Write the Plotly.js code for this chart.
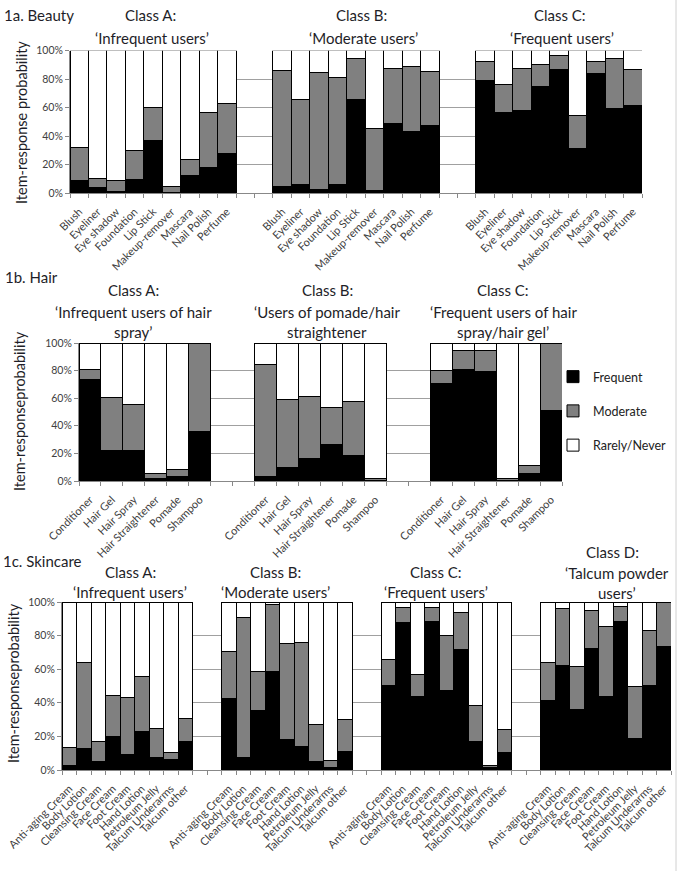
<!DOCTYPE html>
<html>
<head>
<meta charset="utf-8">
<script src="https://cdn.plot.ly/plotly-3.0.1.min.js"></script>
<style>html,body{margin:0;padding:0;background:#fff;}#chart{width:680px;height:871px;}</style>
</head>
<body>
<div id="chart"></div>
<script>
// ---------- DATA ----------
const beautyItems = ['Blush','Eyeliner','Eye shadow','Foundation','Lip Stick','Makeup-remover','Mascara','Nail Polish','Perfume'];
const beautyFrequentA = [8.5, 4, 1, 9.4, 37, 0.5, 12, 17.6, 28];
const beautyModerateA = [23.2, 6, 8, 20.6, 23, 4.2, 11.5, 39, 35];
const beautyRarelyA   = [68.3, 90, 91, 70, 40, 95.3, 76.5, 43.4, 37];
const beautyFrequentB = [4.7, 5.9, 2.6, 5.9, 65.7, 2, 49, 43, 47.2];
const beautyModerateB = [81.7, 60.1, 82.1, 75.3, 28.9, 43.5, 38.8, 46, 38.5];
const beautyRarelyB   = [13.6, 34, 15.3, 18.8, 5.4, 54.5, 12.2, 11, 14.3];
const beautyFrequentC = [79.3, 56.6, 57.7, 75, 86.9, 31.2, 84, 59.4, 61.3];
const beautyModerateC = [13.4, 19.4, 30.1, 15, 9.8, 23.3, 8.7, 35.2, 25.6];
const beautyRarelyC   = [7.3, 24, 12.2, 10, 3.3, 45.5, 7.3, 5.4, 13.1];

const hairItems = ['Conditioner','Hair Gel','Hair Spray','Hair Straightener','Pomade','Shampoo'];
const hairFrequentA = [73.8, 22, 22, 2, 3, 35.8];
const hairModerateA = [6.8, 38.5, 33.2, 3.6, 5.5, 63.5];
const hairRarelyA   = [19.4, 39.5, 44.8, 94.4, 91.5, 0.7];
const hairFrequentB = [3, 10, 16, 26.4, 18.2, 0.5];
const hairModerateB = [81.3, 48.8, 45.3, 26.9, 39.2, 1];
const hairRarelyB   = [15.7, 41.2, 38.7, 46.7, 42.6, 98.5];
const hairFrequentC = [71, 81, 79.4, 0.3, 5.6, 51.3];
const hairModerateC = [9, 13.4, 15, 1.2, 5.5, 48.2];
const hairRarelyC   = [20, 5.6, 5.6, 98.5, 88.9, 0.5];

const skinItems = ['Anti-aging Cream','Body Lotion','Cleansing Cream','Face Cream','Foot Cream','Hand Lotion','Petroleum Jelly','Talcum Underarms','Talcum other'];
const skinFrequentA = [2.8, 12.9, 4.8, 20.2, 9.3, 22.8, 7.3, 6.1, 17];
const skinModerateA = [10.7, 51.1, 12, 24, 33.7, 32.6, 17.3, 4.6, 13.5];
const skinRarelyA   = [86.5, 36, 83.2, 55.8, 57, 44.6, 75.4, 89.3, 69.5];
const skinFrequentB = [42.6, 7.3, 35.2, 58.4, 18.2, 13.9, 4.8, 1.2, 10.9];
const skinModerateB = [28.1, 83.7, 23.6, 40, 57, 62.1, 22.5, 4.3, 19.2];
const skinRarelyB   = [29.3, 9, 41.2, 1.6, 24.8, 24, 72.7, 94.5, 69.9];
const skinFrequentC = [50.5, 87.9, 43.6, 88.3, 47.5, 71.7, 17, 1.2, 10.5];
const skinModerateC = [15.2, 9.1, 13.4, 8.7, 32.5, 22.3, 21.2, 1.4, 13.7];
const skinRarelyC   = [34.3, 3, 43, 3, 20, 6, 61.8, 97.4, 75.8];
const skinFrequentD = [41.2, 62.2, 35.8, 72.3, 43.6, 88.5, 18.8, 50.1, 73.3];
const skinModerateD = [23, 33.8, 25.6, 22.4, 41.9, 8.9, 30.9, 33.1, 26.7];
const skinRarelyD   = [35.8, 4, 38.6, 5.3, 14.5, 2.6, 50.3, 16.8, 0];

const seriesNames = ['Frequent','Moderate','Rarely/Never'];
const beautyTitles = [['Class A:','\u2018Infrequent users\u2019'],['Class B:','\u2018Moderate users\u2019'],['Class C:','\u2018Frequent users\u2019']];
const hairTitles = [['Class A:','\u2018Infrequent users of hair','spray\u2019'],['Class B:','\u2018Users of pomade/hair','straightener'],['Class C:','\u2018Frequent users of hair','spray/hair gel\u2019']];
const skinTitles = [['Class A:','\u2018Infrequent users\u2019'],['Class B:','\u2018Moderate users\u2019'],['Class C:','\u2018Frequent users\u2019'],['Class D:','\u2018Talcum powder','users\u2019']];

// ---------- BUILD ----------
const W = 680, H = 871;
const FONT = 'Lato, "Open Sans", sans-serif';
const colors = ['#000000', '#808080', '#ffffff'];
const GAP = 2;

function positions(nItems, nClasses) {
  const p = [];
  for (let k = 0; k < nClasses; k++) for (let i = 0; i < nItems; i++) p.push(k * (nItems + GAP) + i);
  return p;
}
function labels(items, nClasses) {
  let t = [];
  for (let k = 0; k < nClasses; k++) t = t.concat(items);
  return t;
}

const panels = [
  {items: beautyItems, series: [[beautyFrequentA, beautyFrequentB, beautyFrequentC],[beautyModerateA, beautyModerateB, beautyModerateC],[beautyRarelyA, beautyRarelyB, beautyRarelyC]], ax: '', px: [70, 642], py: [50.7, 193], legend: false},
  {items: hairItems, series: [[hairFrequentA, hairFrequentB, hairFrequentC],[hairModerateA, hairModerateB, hairModerateC],[hairRarelyA, hairRarelyB, hairRarelyC]], ax: '2', px: [79, 562], py: [343, 481], legend: true},
  {items: skinItems, series: [[skinFrequentA, skinFrequentB, skinFrequentC, skinFrequentD],[skinModerateA, skinModerateB, skinModerateC, skinModerateD],[skinRarelyA, skinRarelyB, skinRarelyC, skinRarelyD]], ax: '3', px: [62, 671], py: [602, 770], legend: false}
];

const traces = [];
const layout = {
  width: W, height: H,
  margin: {l: 0, r: 0, t: 0, b: 0},
  paper_bgcolor: '#ffffff', plot_bgcolor: 'rgba(0,0,0,0)',
  barmode: 'stack', bargap: 0,
  font: {family: FONT, color: '#404040', size: 11},
  showlegend: true,
  legend: {x: 553/W, y: 1 - 362/H, xanchor: 'left', yanchor: 'top', traceorder: 'grouped', tracegroupgap: 15,
           font: {family: FONT, size: 12.5, color: '#222'}, bgcolor: 'rgba(0,0,0,0)', itemwidth: 30},
  annotations: [], shapes: []
};

panels.forEach((p) => {
  const nClasses = p.series[0].length;
  const nItems = p.items.length;
  const xs = positions(nItems, nClasses);
  const nCats = nClasses * nItems + (nClasses - 1) * GAP;
  p.series.forEach((byClass, s) => {
    let ys = [];
    byClass.forEach(a => { ys = ys.concat(a); });
    traces.push({
      type: 'bar', x: xs, y: ys, name: seriesNames[s],
      xaxis: 'x' + p.ax, yaxis: 'y' + p.ax,
      marker: {color: colors[s], line: {color: '#000', width: 1}},
      legendgroup: seriesNames[s], showlegend: p.legend,
      hoverinfo: 'x+y+name'
    });
  });
  layout['xaxis' + p.ax] = {
    domain: [p.px[0] / W, p.px[1] / W], anchor: 'y' + p.ax,
    range: [-0.5, nCats - 0.5], tickmode: 'array', tickvals: xs, ticktext: labels(p.items, nClasses),
    tickangle: -45, ticks: '', showgrid: false, zeroline: false,
    showline: true, linecolor: '#888', linewidth: 1, ticklabelstandoff: 7,
    tickfont: {family: FONT, size: 11, color: '#404040'},
    minor: {ticks: 'outside', tick0: -0.5, dtick: 1, ticklen: 4, tickcolor: '#888', showgrid: false},
    fixedrange: true
  };
  layout['yaxis' + p.ax] = {
    domain: [1 - p.py[1] / H, 1 - p.py[0] / H], anchor: 'x' + p.ax,
    range: [0, 100], dtick: 20, ticksuffix: '%', showgrid: true, gridcolor: '#a0a0a0', gridwidth: 1,
    zeroline: false, showline: true, linecolor: '#888', ticks: 'outside', ticklen: 4, tickcolor: '#888',
    tickfont: {family: FONT, size: 10.5, color: '#404040'}, fixedrange: true
  };
});

function ann(text, x, y, size, extra) {
  layout.annotations.push(Object.assign({
    text: text, x: x / W, y: 1 - y / H, xref: 'paper', yref: 'paper',
    xanchor: 'center', yanchor: 'middle', showarrow: false,
    font: {family: FONT, size: size, color: '#1e1e28'}
  }, extra || {}));
}

// panel headings
ann('1a. Beauty', 2, 15, 15, {xanchor: 'left'});
ann('1b. Hair', 3, 277, 15, {xanchor: 'left'});
ann('1c. Skincare', 1, 561, 15, {xanchor: 'left'});

// class titles
const beautyTitleX = [150, 361, 560];
beautyTitles.forEach((t, k) => { ann(t[0], beautyTitleX[k], 15, 15); ann(t[1], beautyTitleX[k] + 2, 38, 15); });
const hairTitleX = [133, 327, 503];
hairTitles.forEach((t, k) => { ann(t[0], hairTitleX[k], 290, 15); ann(t[1], hairTitleX[k], 312, 15); ann(t[2], hairTitleX[k], 332, 15); });
const skinTitleX = [130, 275, 436, 612];
const skinTitleY = [[572, 592], [572, 592], [572, 592], [552, 573, 593]];
skinTitles.forEach((t, k) => { t.forEach((line, j) => ann(line, skinTitleX[k] + (k === 3 && j > 0 ? 5 : 0), skinTitleY[k][j], 15)); });

// y-axis titles
ann('Item-response probability', 21, 123, 14.5, {textangle: -90});
ann('Item-responseprobability', 19, 411, 14.5, {textangle: -90});
ann('Item-responseprobability', 13, 683, 14.5, {textangle: -90});

// right border line
layout.shapes.push({type: 'line', xref: 'paper', yref: 'paper', x0: 676 / W, x1: 676 / W, y0: 0, y1: 1, line: {color: '#d0d0d0', width: 1}});

Plotly.newPlot('chart', traces, layout, {displayModeBar: false, staticPlot: true});
</script>
</body>
</html>
